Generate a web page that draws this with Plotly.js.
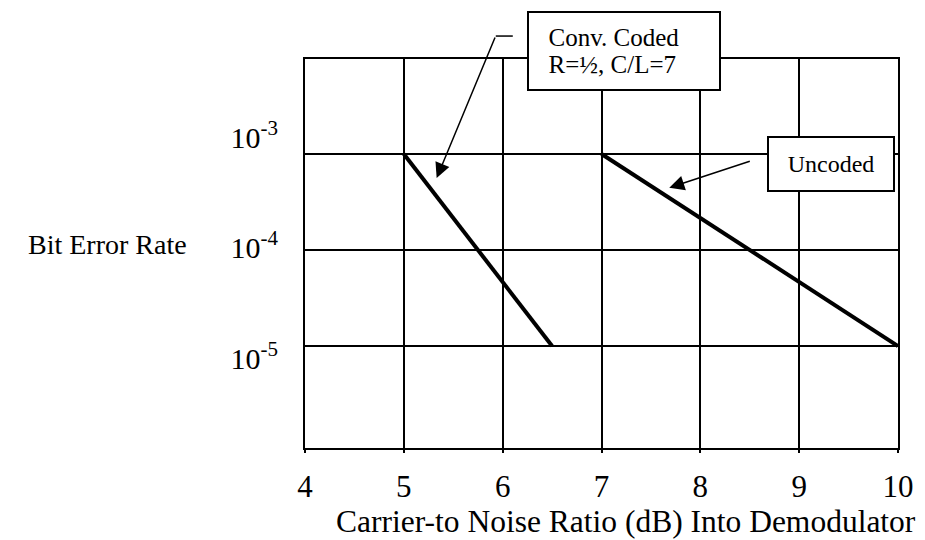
<!DOCTYPE html>
<html>
<head>
<meta charset="utf-8">
<script src="https://cdn.plot.ly/plotly-3.0.1.min.js"></script>
<style>html,body{margin:0;padding:0;background:#fff;}#chart{width:925px;height:540px;}</style>
</head>
<body>
<div id="chart"></div>
<script>
// Data
const codedX = [5, 6.5];
const codedY = [1e-3, 1e-5];
const uncodedX = [7, 10];
const uncodedY = [1e-3, 1e-5];
const xTickVals = [4, 5, 6, 7, 8, 9, 10];
const yTickVals = [1e-3, 1e-4, 1e-5];
const yTickText = ['10<sup>-3</sup>', '10<sup>-4</sup>', '10<sup>-5</sup>'];
const codedLines = ['Conv. Coded', 'R=½, C/L=7'];
const uncodedLabel = 'Uncoded';
const xTitle = 'Carrier-to Noise Ratio (dB) Into Demodulator';
const yTitle = 'Bit Error Rate';

const FONT = 'Liberation Serif, Times New Roman, serif';
const PAD = '\u00a0\u00a0\u2009';
const codedLabel = codedLines.map(s => '<span style="font-size:25px">' + PAD + s + '</span>').join('<br>');

const traces = [
  {x: codedX, y: codedY, mode: 'lines', line: {color: '#000', width: 4}, hoverinfo: 'skip'},
  {x: uncodedX, y: uncodedY, mode: 'lines', line: {color: '#000', width: 4}, hoverinfo: 'skip'},
  // empty trace that carries the label axis
  {x: [], y: [], yaxis: 'y2', mode: 'lines', hoverinfo: 'skip'}
];

const layout = {
  width: 925, height: 540,
  margin: {l: 305, r: 27, t: 59, b: 92},
  paper_bgcolor: '#fff', plot_bgcolor: '#fff',
  showlegend: false,
  font: {family: FONT, color: '#000', size: 29},
  xaxis: {
    range: [4, 10], tickvals: xTickVals, ticktext: xTickVals.map(String),
    showgrid: true, gridcolor: '#000', gridwidth: 2,
    showline: true, linecolor: '#000', linewidth: 2, mirror: true,
    zeroline: false, ticks: 'outside', ticklen: 3, tickwidth: 2, tickcolor: '#000',
    ticklabelstandoff: 7,
    tickfont: {family: FONT, size: 31, color: '#000'}
  },
  yaxis: {
    type: 'log', range: [-6.0625, -2.01],
    tickvals: yTickVals, showticklabels: false,
    showgrid: true, gridcolor: '#000', gridwidth: 2,
    showline: true, linecolor: '#000', linewidth: 2, mirror: true,
    zeroline: false, ticks: ''
  },
  yaxis2: {
    type: 'log', range: [-5.8145, -2.2941], overlaying: 'y', side: 'left',
    tickvals: yTickVals, ticktext: yTickText,
    showgrid: false, showline: false, zeroline: false, ticks: '',
    ticklabelstandoff: 26,
    tickfont: {family: FONT, size: 30, color: '#000'}
  },
  shapes: [
    {type: 'line', xref: 'paper', yref: 'paper', x0: 0.3217, x1: 0.3504, y0: 1.059, y1: 1.059,
     line: {color: '#000', width: 1.5}}
  ],
  annotations: [
    {xref: 'paper', yref: 'paper', x: -0.195, y: 0.5219, text: yTitle, showarrow: false,
     font: {family: FONT, size: 28, color: '#000'}, xanchor: 'right', yanchor: 'middle'},
    {xref: 'paper', yref: 'paper', x: 0.0481, y: -0.1877, text: xTitle, showarrow: false,
     font: {family: FONT, size: 31.5, color: '#000'}, xanchor: 'left', yanchor: 'middle'},
    {xref: 'paper', yref: 'paper', x: 0.5387, y: 1.0206, text: codedLabel, showarrow: false,
     align: 'left', xanchor: 'center', yanchor: 'middle',
     width: 186, height: 72, borderpad: 2,
     bgcolor: '#fff', bordercolor: '#000', borderwidth: 2,
     font: {family: FONT, size: 21.5, color: '#000'}},
    {xref: 'paper', yref: 'paper', x: 0.8874, y: 0.7288, text: uncodedLabel, showarrow: false,
     xanchor: 'center', yanchor: 'middle',
     width: 120, height: 48, borderpad: 2,
     bgcolor: '#fff', bordercolor: '#000', borderwidth: 2,
     font: {family: FONT, size: 24, color: '#000'}},
    {xref: 'paper', yref: 'paper', x: 0.222, y: 0.694, text: '', showarrow: true,
     ax: 59, ay: -142, arrowhead: 2, arrowsize: 2, arrowwidth: 1.5, arrowcolor: '#000', standoff: 0},
    {xref: 'paper', yref: 'paper', x: 0.6143, y: 0.669, text: '', showarrow: true,
     ax: 82, ay: -27, arrowhead: 2, arrowsize: 2, arrowwidth: 1.5, arrowcolor: '#000', standoff: 0}
  ]
};

Plotly.newPlot('chart', traces, layout, {staticPlot: true, displayModeBar: false});
</script>
</body>
</html>
